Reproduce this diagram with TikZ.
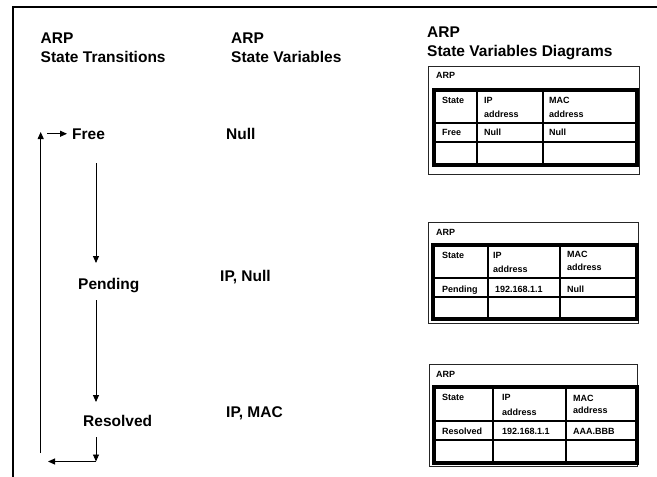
\documentclass[tikz,border=0pt]{standalone}
\usepackage{fontspec}
\setmainfont{Liberation Sans}
\usetikzlibrary{arrows.meta}
\begin{document}
\begin{tikzpicture}[x=1pt,y=-1pt,
  big/.style={anchor=base west,inner sep=0pt,font=\fontsize{15.5}{19}\selectfont\bfseries},
  small/.style={anchor=base west,inner sep=0pt,font=\fontsize{9}{11}\selectfont\bfseries},
  arr/.style={line width=0.9pt,-{Triangle[length=7pt,width=6pt]}},
  outerbox/.style={draw=black!85,line width=0.8pt},
  thickbox/.style={draw=black,line width=3.2pt},
  grid/.style={draw=black,line width=1.3pt},
  frame/.style={draw=black,line width=2pt}]
\useasboundingbox (0,0) rectangle (657,477);
\fill[white] (0,0) rectangle (657,477);
% frame
\draw[frame] (13,477) -- (13,6.5) -- (657,6.5);
% headers
\node[big] (h1a) at (40.5,43) {ARP};
\node[big] (h1b) at (40.5,62) {State Transitions};
\node[big] (h2a) at (231,43) {ARP};
\node[big] (h2b) at (231,62) {State Variables};
\node[big] (h3a) at (427,37) {ARP};
\node[big] (h3b) at (427,56) {State Variables Diagrams};
% states
\node[big] (free) at (72,139) {Free};
\node[big] (pend) at (78,289) {Pending};
\node[big] (resv) at (83,426) {Resolved};
% variables
\node[big] (v1) at (226,139) {Null};
\node[big] (v2) at (220,281) {IP, Null};
\node[big] (v3) at (226,417) {IP, MAC};
% connectors
\coordinate (a1) at (96,163);
\coordinate (a2) at (96,263);
\coordinate (b1) at (96,300);
\coordinate (b2) at (96,402);
\coordinate (c1) at (96,437);
\coordinate (c2) at (96,461.5);
\coordinate (d2) at (48,461.5);
\coordinate (e1) at (40.7,453);
\coordinate (e2) at (40.7,132);
\draw[arr] (a1) -- (a2);
\draw[arr] (b1) -- (b2);
\draw[arr] (c1) -- (c2);
\draw[arr] (c2) -- (d2);
\draw[arr] (e1) -- (e2);
\draw[arr] ([xshift=-25pt]free.west) -- ([xshift=-5pt]free.west);
% table 1
\draw[outerbox] (428,66) rectangle (639,174);
\node[small] (t1arp) at (436,78) {ARP};
\draw[grid] (477,90) -- (477,165) (543,90) -- (543,165) (434,123) -- (637,123) (434,142) -- (637,142);
\draw[thickbox] (434,90) rectangle (637,165);
\node[small] (t1s) at (442,103) {State};
\node[small] (t1ip) at (484,103) {IP};
\node[small] (t1ipb) at (484,117) {address};
\node[small] (t1mac) at (549,103) {MAC};
\node[small] (t1macb) at (549,117) {address};
\node[small] (t1r1) at (442,135) {Free};
\node[small] (t1r2) at (484,135) {Null};
\node[small] (t1r3) at (549,135) {Null};
% table 2
\draw[outerbox] (428,222) rectangle (638,323);
\node[small] (t2arp) at (436,235) {ARP};
\draw[grid] (488,245) -- (488,319) (560,245) -- (560,319) (433,278) -- (637,278) (433,297) -- (637,297);
\draw[thickbox] (433,245) rectangle (637,319);
\node[small] (t2s) at (442,258) {State};
\node[small] (t2ip) at (493,258) {IP};
\node[small] (t2ipb) at (493,272) {address};
\node[small] (t2mac) at (567,257) {MAC};
\node[small] (t2macb) at (567,270) {address};
\node[small] (t2r1) at (442,292) {Pending};
\node[small] (t2r2) at (495,292) {192.168.1.1};
\node[small] (t2r3) at (567,292) {Null};
% table 3
\draw[outerbox] (429,364) rectangle (637,466);
\node[small] (t3arp) at (436,377) {ARP};
\draw[grid] (493,387) -- (493,463) (566,387) -- (566,463) (434,421) -- (637,421) (434,440) -- (637,440);
\draw[thickbox] (434,387) rectangle (637,463);
\node[small] (t3s) at (442,400) {State};
\node[small] (t3ip) at (502,400) {IP};
\node[small] (t3ipb) at (502,415) {address};
\node[small] (t3mac) at (573,401) {MAC};
\node[small] (t3macb) at (573,413) {address};
\node[small] (t3r1) at (442,434) {Resolved};
\node[small] (t3r2) at (502,434) {192.168.1.1};
\node[small] (t3r3) at (573,434) {AAA.BBB};
\end{tikzpicture}
\end{document}
